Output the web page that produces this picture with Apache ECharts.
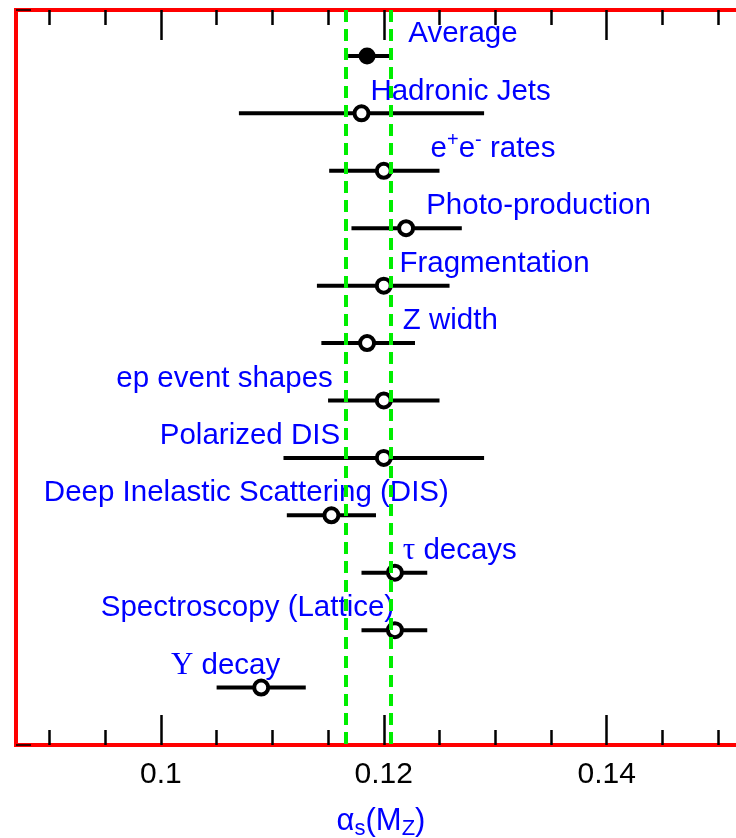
<!DOCTYPE html>
<html>
<head>
<meta charset="utf-8">
<script src="https://cdn.jsdelivr.net/npm/echarts@6/dist/echarts.min.js"></script>
<style>
  html, body { margin: 0; padding: 0; background: #fff; overflow: hidden; }
  #chart { width: 760px; height: 838px; }
</style>
</head>
<body>
<div id="chart"></div>
<script>
// alpha_s(M_Z) measurements, top to bottom
const names = [
  'Average', 'Hadronic Jets', 'e+e- rates', 'Photo-production', 'Fragmentation',
  'Z width', 'ep event shapes', 'Polarized DIS', 'Deep Inelastic Scattering (DIS)',
  'tau decays', 'Spectroscopy (Lattice)', 'Upsilon decay',
];
const centers = [0.1185, 0.118, 0.120, 0.122, 0.120, 0.1185, 0.120, 0.120, 0.1153, 0.121, 0.121, 0.109];
const lows    = [0.1168, 0.107, 0.1151, 0.1171, 0.114, 0.1144, 0.115, 0.111, 0.1113, 0.118, 0.118, 0.105];
const highs   = [0.1206, 0.129, 0.125, 0.127, 0.1259, 0.1228, 0.125, 0.129, 0.1193, 0.1239, 0.1239, 0.113];
const bandLines = [0.1166, 0.1206];

const majorTicks = [0.1, 0.12, 0.14];
const minorTicks = [0.09, 0.095, 0.105, 0.11, 0.115, 0.125, 0.13, 0.135, 0.145, 0.15];

// where each label text starts (in alpha_s units)
const labelAnchors = [0.1222, 0.1188, 0.1242, 0.1238, 0.1214, 0.1217, 0.0960, 0.0999, 0.0895, 0.1217, 0.0946, 0.1009];

const BLUE = '#0000ff';
const FONT = 'Liberation Sans, Arial, sans-serif';

const labelText = {
  'e+e- rates': '{t|e}{sup|+}{t|e}{sup|-}{t| rates}',
  'tau decays': '{g|τ}{t| decays}',
  'Upsilon decay': '{g|Υ}{t| decay}',
};

const rows = names.map((_, i) => i);
const barData = rows.map((r) => [r, lows[r], highs[r]]);
const openPts = rows.filter((r) => r > 0).map((r) => [centers[r], r]);
const avgPts = [[centers[0], 0]];
const labelData = rows.map((r) => ({
  value: [labelAnchors[r], r],
  label: { formatter: labelText[names[r]] || '{t|' + names[r] + '}' },
}));

const chart = echarts.init(document.getElementById('chart'), null, { renderer: 'canvas' });

const gridBox = { left: 16, right: 14, top: 10, bottom: 93, outerBoundsMode: 'none', containLabel: false };
const xBase = {
  type: 'value', min: 0.087, max: 0.1525,
  splitLine: { show: false }, axisLine: { show: false, onZero: false },
};
const yBase = {
  type: 'value', inverse: true, min: -0.8, max: 12,
  splitLine: { show: false }, axisLine: { show: false, onZero: false }, axisLabel: { show: false },
};
const tickStyle = { color: '#000', width: 2.5 };

chart.setOption({
  animation: false,
  grid: [
    { ...gridBox, show: true, borderColor: '#ff0000', borderWidth: 4, backgroundColor: '#fff' },
    { ...gridBox, show: false },
  ],
  xAxis: [
    {
      ...xBase,
      gridIndex: 0,
      position: 'bottom',
      name: '{a|α}{s|s}{a|(M}{s|Z}{a|)}',
      nameLocation: 'middle',
      nameGap: 57,
      nameTextStyle: {
        rich: {
          a: { color: BLUE, fontSize: 31, fontFamily: FONT, lineHeight: 38 },
          s: { color: BLUE, fontSize: 22, fontFamily: FONT, verticalAlign: 'bottom', padding: [13, 0, 0, 0] },
        },
      },
      axisTick: { inside: true, length: 30, customValues: majorTicks, lineStyle: tickStyle },
      axisLabel: { customValues: majorTicks, color: '#000', fontSize: 30, fontFamily: FONT, margin: 15 },
    },
    {
      ...xBase,
      gridIndex: 0,
      position: 'top',
      axisTick: { inside: true, length: 30, customValues: majorTicks, lineStyle: tickStyle },
      axisLabel: { show: false },
    },
    {
      ...xBase,
      gridIndex: 1,
      position: 'bottom',
      axisTick: { inside: true, length: 15, customValues: minorTicks, lineStyle: tickStyle },
      axisLabel: { show: false },
    },
    {
      ...xBase,
      gridIndex: 1,
      position: 'top',
      axisTick: { inside: true, length: 15, customValues: minorTicks, lineStyle: tickStyle },
      axisLabel: { show: false },
    },
  ],
  yAxis: [
    {
      ...yBase,
      gridIndex: 0,
      axisTick: { inside: true, length: 15, customValues: [-0.8, 12], lineStyle: { color: '#000', width: 1.5 } },
    },
    { ...yBase, gridIndex: 1, axisTick: { show: false } },
  ],
  series: [
    {
      type: 'custom',
      z: 2,
      xAxisIndex: 0,
      yAxisIndex: 0,
      data: barData,
      encode: { x: [1, 2], y: 0 },
      renderItem(params, api) {
        const a = api.coord([api.value(1), api.value(0)]);
        const b = api.coord([api.value(2), api.value(0)]);
        return {
          type: 'line',
          shape: { x1: a[0], y1: a[1], x2: b[0], y2: b[1] },
          style: { stroke: '#000', lineWidth: 4 },
        };
      },
      markLine: {
        silent: true,
        precision: 5,
        symbol: ['none', 'none'],
        label: { show: false },
        lineStyle: { color: '#00ee00', type: [12, 7], width: 4, opacity: 1 },
        data: bandLines.map((v) => ({ xAxis: v })),
      },
    },
    {
      type: 'scatter',
      z: 3,
      xAxisIndex: 0,
      yAxisIndex: 0,
      data: openPts,
      symbol: 'circle',
      symbolSize: 14,
      itemStyle: { color: '#fff', borderColor: '#000', borderWidth: 4, opacity: 1 },
    },
    {
      type: 'scatter',
      z: 3,
      xAxisIndex: 0,
      yAxisIndex: 0,
      data: avgPts,
      symbol: 'circle',
      symbolSize: 17,
      itemStyle: { color: '#000', opacity: 1 },
    },
    {
      type: 'scatter',
      z: 4,
      xAxisIndex: 0,
      yAxisIndex: 0,
      data: labelData,
      symbolSize: 0,
      silent: true,
      itemStyle: { opacity: 1 },
      label: {
        show: true,
        position: 'right',
        distance: 0,
        offset: [0, -22],
        verticalAlign: 'middle',
        opacity: 1,
        rich: {
          t: { color: BLUE, fontSize: 29.5, fontFamily: FONT, lineHeight: 36 },
          g: { color: BLUE, fontSize: 31, fontFamily: 'Liberation Serif, DejaVu Serif, serif', lineHeight: 36 },
          sup: { color: BLUE, fontSize: 20, fontFamily: FONT, verticalAlign: 'top', lineHeight: 36, padding: [0, 0, 14, 0] },
        },
      },
    },
  ],
});
</script>
</body>
</html>
